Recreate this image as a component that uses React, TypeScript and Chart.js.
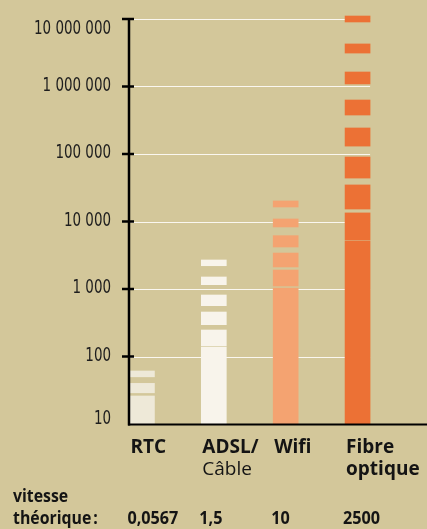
import React, { useEffect, useRef } from "react";
import { Chart, registerables } from "chart.js";

Chart.register(...registerables);

// ---- data ----
const categories = ["RTC", "ADSL/", "Wifi", "Fibre"];
const categorySubLabels = ["", "Câble", "", "optique"];
const speedTitle = ["vitesse", "théorique\u202F:"];
const speeds = ["0,0567", "1,5", "10", "2500"];
const yTickValues = [10, 100, 1000, 10000, 100000, 1000000, 10000000];

const rtcSegments: [number, number][] = [[10, 26], [29, 40], [50, 61]];
const adslSegments: [number, number][] = [
  [10, 138], [144, 247], [296, 456], [566, 815], [1159, 1507], [2213, 2690],
];
const wifiSegments: [number, number][] = [
  [10, 1035], [1107, 1910], [2120, 3410], [4190, 6170], [8300, 10900], [16400, 20140],
];
const fibreSegments: [number, number][] = [
  [10, 5140], [5320, 13400], [15300, 34800], [44000, 90300], [131000, 243000],
  [378000, 631000], [1090000, 1640000], [3130000, 4270000], [9030000, 11070000],
];

// ---- styles ----
const BG = "#d3c79a";
const barColors = ["#eee9d8", "#f8f4eb", "#f4a371", "#ec7135"];
const GRID = "#faf7f0";
const INK = "#141414";
const AXIS_X = 129;
const BAR_W = 25;

function fmt(v: number) {
  return String(v).replace(/\B(?=(\d{3})+(?!\d))/g, " ");
}

function squeezed(ctx: CanvasRenderingContext2D, text: string, x: number, y: number, sx: number) {
  ctx.save();
  ctx.translate(x, y);
  ctx.scale(sx, 1);
  ctx.fillText(text, 0, 0);
  ctx.restore();
}

const decor = {
  id: "decor",
  beforeDatasetsDraw(chart: any) {
    const ctx = chart.ctx;
    const y = chart.scales.y;
    const x = chart.scales.x;
    const right = x.getPixelForValue(categories.length - 1) + BAR_W / 2;
    ctx.save();
    ctx.strokeStyle = GRID;
    ctx.lineWidth = 1.2;
    yTickValues.slice(1).forEach((v) => {
      const py = Math.round(y.getPixelForValue(v)) + 0.5;
      ctx.beginPath();
      ctx.moveTo(AXIS_X, py);
      ctx.lineTo(right, py);
      ctx.stroke();
    });
    ctx.restore();
  },
  afterDatasetsDraw(chart: any) {
    const ctx = chart.ctx;
    const y = chart.scales.y;
    const x = chart.scales.x;
    const W = chart.width;
    ctx.save();
    // axes
    ctx.strokeStyle = "#000";
    ctx.lineWidth = 2;
    ctx.beginPath();
    ctx.moveTo(AXIS_X - 1, y.bottom + 0.5);
    ctx.lineTo(W, y.bottom + 0.5);
    ctx.stroke();
    ctx.lineWidth = 2.5;
    ctx.beginPath();
    ctx.moveTo(AXIS_X, y.top - 1);
    ctx.lineTo(AXIS_X, y.bottom + 1.5);
    ctx.stroke();
    // tick marks
    yTickValues.slice(1).forEach((v) => {
      const py = y.getPixelForValue(v);
      ctx.beginPath();
      ctx.moveTo(AXIS_X - 7, py);
      ctx.lineTo(AXIS_X + 5, py);
      ctx.stroke();
    });
    // y labels (condensed)
    ctx.fillStyle = "#1e1e1e";
    ctx.font = "19px 'Liberation Sans Narrow', 'DejaVu Sans Condensed', sans-serif";
    ctx.textAlign = "right";
    ctx.textBaseline = "alphabetic";
    const widest = ctx.measureText(fmt(yTickValues[yTickValues.length - 1])).width;
    const sx = Math.min(1, 77 / widest);
    yTickValues.forEach((v, i) => {
      const py = y.getPixelForValue(v);
      let off = -3;
      if (i === yTickValues.length - 1) off = 7.5;
      if (i === 0) off = -7;
      squeezed(ctx, fmt(v), 111, py + off + 7, sx);
    });
    // category labels
    ctx.fillStyle = INK;
    ctx.textAlign = "left";
    categories.forEach((c, i) => {
      const left = x.getPixelForValue(i) - BAR_W / 2;
      ctx.font = "bold 19px 'Open Sans', sans-serif";
      ctx.fillText(c, left + 1, 453);
      const sub = categorySubLabels[i];
      if (sub) {
        ctx.font = (i === 3 ? "bold " : "") + "19px 'Open Sans', sans-serif";
        ctx.fillText(sub, left + 1, 475);
      }
      ctx.font = "bold 18px 'Open Sans', sans-serif";
      squeezed(ctx, speeds[i], left - 2, 524, 0.9);
    });
    ctx.font = "bold 18px 'Open Sans', sans-serif";
    squeezed(ctx, speedTitle[0], 13, 502, 0.88);
    squeezed(ctx, speedTitle[1], 13, 524, 0.88);
    ctx.restore();
  },
};

export default function App() {
  const ref = useRef<HTMLCanvasElement>(null);
  useEffect(() => {
    document.body.style.margin = "0";
    document.body.style.background = BG;
    const all = [rtcSegments, adslSegments, wifiSegments, fibreSegments];
    const n = Math.max(...all.map((s) => s.length));
    const datasets = Array.from({ length: n }, (_, k) => ({
      label: "seg" + k,
      data: all.map((s) => (s[k] ? s[k] : null)) as any,
      backgroundColor: barColors,
      borderWidth: 0,
      barThickness: BAR_W,
      grouped: false,
      clip: false as any,
    }));
    const chart = new Chart(ref.current!, {
      type: "bar",
      data: { labels: categories, datasets },
      options: {
        responsive: false,
        animation: false,
        events: [],
        layout: { padding: { left: 106, right: 33.5, top: 19, bottom: 105 } },
        plugins: { legend: { display: false }, tooltip: { enabled: false } },
        scales: {
          x: { type: "category", display: false, offset: true },
          y: { type: "logarithmic", display: false, min: 10, max: 10000000 },
        },
      },
      plugins: [decor],
    });
    return () => chart.destroy();
  }, []);
  return (
    <div style={{ width: 427, height: 529, background: BG }}>
      <canvas ref={ref} width={427} height={529} style={{ display: "block" }} />
    </div>
  );
}
